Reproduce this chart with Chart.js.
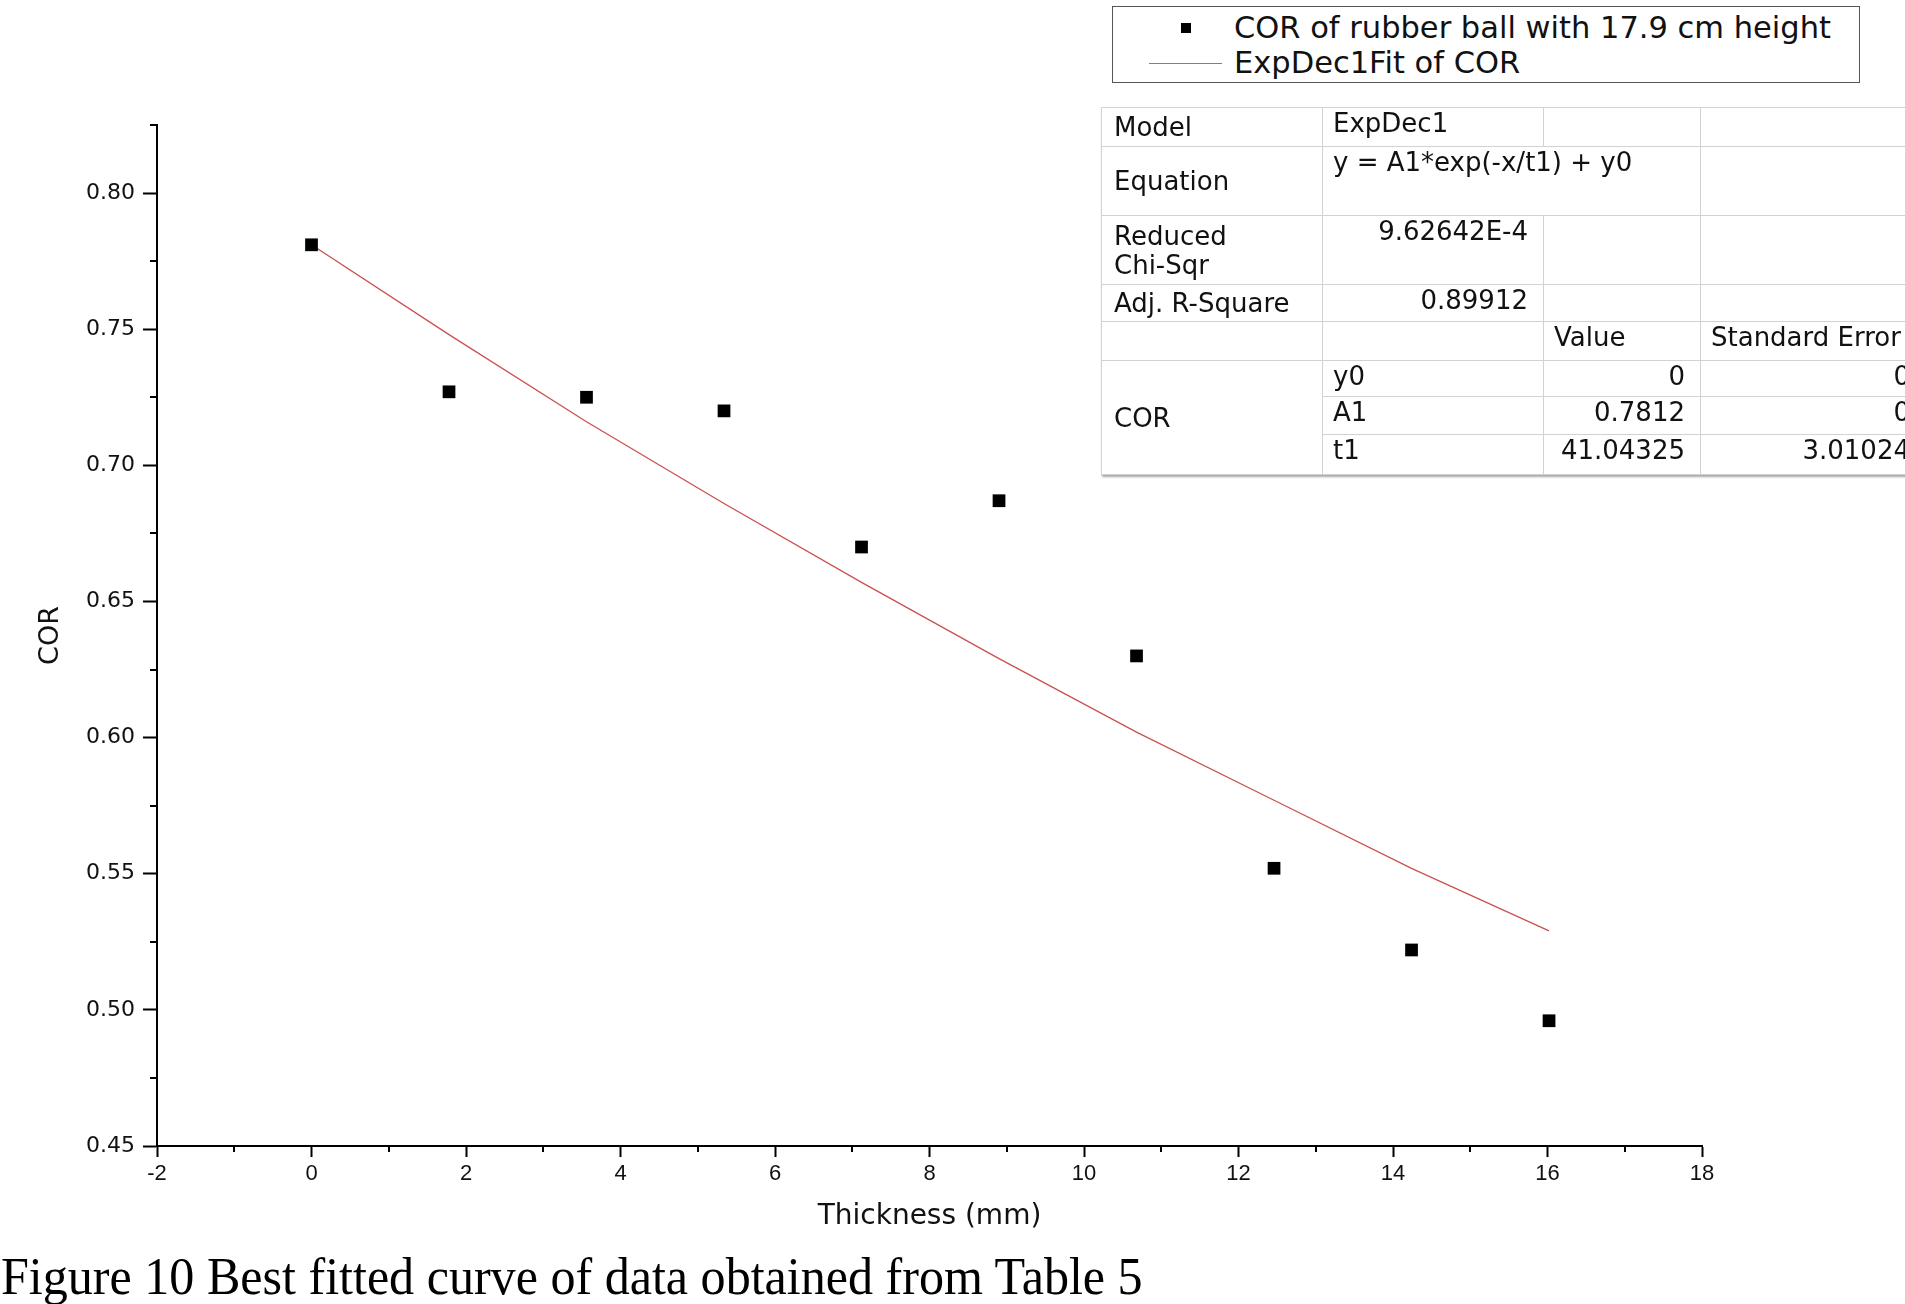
<!DOCTYPE html>
<html>
<head>
<meta charset="utf-8">
<script src="https://cdn.jsdelivr.net/npm/chart.js@4.4.1/dist/chart.umd.min.js"></script>
<style>
  html, body { margin: 0; padding: 0; background: #fff; width: 1905px; height: 1304px; overflow: hidden; }
  #wrap { position: relative; width: 1905px; height: 1304px; overflow: hidden; }
  #chartCOR { position: absolute; left: 0; top: 0; }

  .legenda {
    position: absolute; left: 1112px; top: 6px; width: 748px; height: 77px;
    box-sizing: border-box; border: 1.5px solid #555; background: #fff;
    font-family: 'DejaVu Sans', sans-serif; font-size: 30.5px; color: #111;
  }
  .legenda .linha { position: absolute; left: 0; height: 34px; line-height: 34px; white-space: nowrap; }
  .legenda .texto { position: absolute; left: 121px; top: 0; }
  .legenda .quadrado { position: absolute; left: 68px; top: 12px; width: 10px; height: 10px; background: #000; }
  .legenda .traco { position: absolute; left: 36px; top: 17px; width: 73px; height: 0; border-top: 1.3px solid #d06060; }

  table.ajuste {
    position: absolute; left: 1101px; top: 107px; width: 824px;
    border-collapse: collapse; table-layout: fixed;
    font-family: 'DejaVu Sans', sans-serif; font-size: 26px; color: #111;
    border: 1.5px solid #777; box-shadow: 1px 2px 2px rgba(0,0,0,0.35);
    background: #fff;
  }
  table.ajuste td {
    border: 1px solid #d2d2d2; padding: 1px 13px 0 10px; line-height: 29px;
    vertical-align: top; white-space: nowrap; overflow: hidden;
  }
  table.ajuste td.rot { vertical-align: middle; padding-left: 12px; white-space: normal; }
  table.ajuste td.num { text-align: right; padding-right: 15px; }

  .legenda-fig {
    position: absolute; left: 1px; top: 1250px; font-family: 'Liberation Serif', serif;
    font-size: 53px; line-height: 53px; color: #000; white-space: nowrap; transform-origin: left top;
  }
</style>
</head>
<body>
<div id="wrap">
  <canvas id="chartCOR" width="1905" height="1304"></canvas>

  <div class="legenda">
    <div class="linha" style="top:4px"><span class="quadrado"></span><span class="texto">COR of rubber ball with 17.9 cm height</span></div>
    <div class="linha" style="top:39px"><span class="traco"></span><span class="texto">ExpDec1Fit of COR</span></div>
  </div>

  <table class="ajuste">
    <colgroup><col style="width:221px"><col style="width:221px"><col style="width:157px"><col style="width:225px"></colgroup>
    <tr style="height:39px"><td class="rot">Model</td><td>ExpDec1</td><td></td><td></td></tr>
    <tr style="height:69px"><td class="rot">Equation</td><td colspan="2">y = A1*exp(-x/t1) + y0</td><td></td></tr>
    <tr style="height:69px"><td class="rot">Reduced<br>Chi-Sqr</td><td class="num">9.62642E-4</td><td></td><td></td></tr>
    <tr style="height:37px"><td class="rot">Adj. R-Square</td><td class="num">0.89912</td><td></td><td></td></tr>
    <tr style="height:39px"><td class="rot"></td><td></td><td>Value</td><td>Standard Error</td></tr>
    <tr style="height:36px"><td class="rot" rowspan="3">COR</td><td>y0</td><td class="num">0</td><td class="num">0</td></tr>
    <tr style="height:38px"><td>A1</td><td class="num">0.7812</td><td class="num">0</td></tr>
    <tr style="height:40px"><td>t1</td><td class="num">41.04325</td><td class="num">3.01024</td></tr>
  </table>

  <div class="legenda-fig" id="legendaFig">Figure 10 Best fitted curve of data obtained from Table 5</div>
</div>

<script>
// dados
const espessura = [0, 1.78, 3.56, 5.34, 7.12, 8.9, 10.68, 12.46, 14.24, 16.02];
const corMedido = [0.781, 0.727, 0.725, 0.720, 0.670, 0.687, 0.630, 0.552, 0.522, 0.496];
const corAjuste = [0.781, 0.748, 0.716, 0.686, 0.657, 0.629, 0.602, 0.577, 0.552, 0.529];

const eixoX = { min: -2, max: 18, passo: 2 };
const eixoY = { min: 0.45, max: 0.825, passo: 0.05 };

// traços menores entre os principais (Chart.js não tem minor ticks)
const tracosMenores = {
  id: 'tracosMenores',
  afterDraw(chart) {
    const { ctx, scales: { x, y } } = chart;
    ctx.save();
    ctx.strokeStyle = '#000';
    ctx.lineWidth = 2;
    ctx.beginPath();
    for (let v = eixoX.min + eixoX.passo / 2; v < eixoX.max; v += eixoX.passo) {
      const px = Math.round(x.getPixelForValue(v));
      ctx.moveTo(px, x.top);
      ctx.lineTo(px, x.top + 6);
    }
    for (let v = eixoY.min + eixoY.passo / 2; v <= eixoY.max + 1e-9; v += eixoY.passo) {
      const py = Math.round(y.getPixelForValue(v));
      ctx.moveTo(y.right, py);
      ctx.lineTo(y.right - 7, py);
    }
    ctx.stroke();
    ctx.restore();
  },
};

new Chart(document.getElementById('chartCOR'), {
  type: 'scatter',
  data: {
    datasets: [
      {
        label: 'COR of rubber ball with 17.9 cm height',
        data: espessura.map((x, i) => ({ x, y: corMedido[i] })),
        pointStyle: 'rect',
        pointRadius: 9,
        pointHoverRadius: 9,
        backgroundColor: '#000',
        borderColor: '#000',
        borderWidth: 0,
        order: 1,
      },
      {
        label: 'ExpDec1Fit of COR',
        data: espessura.map((x, i) => ({ x, y: corAjuste[i] })),
        showLine: true,
        pointRadius: 0,
        borderColor: '#cc5050',
        borderWidth: 1.3,
        tension: 0,
        order: 2,
      },
    ],
  },
  options: {
    responsive: false,
    animation: false,
    layout: { padding: { left: 31, top: 125, right: 203, bottom: 66 } },
    plugins: {
      legend: { display: false },
      tooltip: { enabled: false },
    },
    scales: {
      x: {
        type: 'linear',
        min: eixoX.min,
        max: eixoX.max,
        afterFit: (scale) => { scale.height = 92; },
        grid: { drawOnChartArea: false, tickLength: 11, tickWidth: 2, tickColor: '#000' },
        border: { color: '#000', width: 2 },
        ticks: {
          stepSize: eixoX.passo,
          color: '#111',
          padding: 4,
          font: { family: "'Liberation Sans', Arial", size: 22 },
        },
        title: {
          display: true,
          text: 'Thickness (mm)',
          color: '#111',
          font: { family: "'DejaVu Sans'", size: 28 },
          padding: { top: 4, bottom: 4 },
        },
      },
      y: {
        type: 'linear',
        min: eixoY.min,
        max: eixoY.max,
        afterFit: (scale) => { scale.width = 126; },
        grid: { drawOnChartArea: false, tickLength: 14, tickWidth: 2, tickColor: '#000' },
        border: { color: '#000', width: 2 },
        ticks: {
          stepSize: eixoY.passo,
          includeBounds: false,
          color: '#111',
          padding: 8,
          font: { family: "'DejaVu Sans'", size: 22 },
          callback: (value) => Number(value).toFixed(2),
        },
        title: {
          display: true,
          text: 'COR',
          color: '#111',
          font: { family: "'DejaVu Sans'", size: 27 },
          padding: { top: 4, bottom: 4 },
        },
      },
    },
  },
  plugins: [tracosMenores],
});

// legenda da figura: fonte serifada estreita, ajusta largura
const fig = document.getElementById('legendaFig');
const larg = fig.getBoundingClientRect().width;
if (larg > 0) fig.style.transform = 'scaleX(' + (1142 / larg).toFixed(3) + ')';
</script>
</body>
</html>
